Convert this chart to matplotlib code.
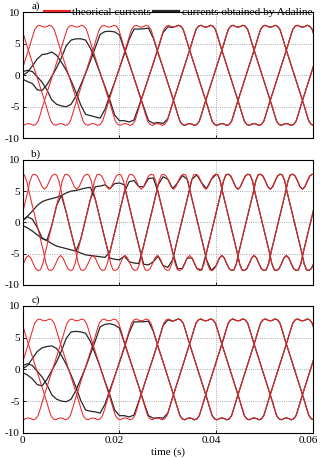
import numpy as np
import matplotlib
matplotlib.use("Agg")
import matplotlib.pyplot as plt
from matplotlib.transforms import ScaledTranslation

plt.rcParams['font.family'] = ['Liberation Serif', 'DejaVu Serif']
plt.rcParams['font.size'] = 8

# digitised waveforms: one period (0.02 s) sampled every 0.5 ms,
# starting at the centre of the positive half-wave
step = 0.0005
period = 0.02
# centre of the first positive half-wave of each phase (s)
phase_centres = [0.0045, 0.01117, 0.01783]

cycle_trap = [7.65, 7.75, 7.95, 7.8, 7.3, 6.1, 4.8, 3.6, 2.4, 1.2,
              0.0, -1.2, -2.4, -3.6, -4.8, -6.1, -7.3, -7.8, -7.95, -7.75,
              -7.65, -7.75, -7.95, -7.8, -7.3, -6.1, -4.8, -3.6, -2.4, -1.2,
              0.0, 1.2, 2.4, 3.6, 4.8, 6.1, 7.3, 7.8, 7.95, 7.75]

cycle_harm = [5.3, 5.7, 6.6, 7.4, 7.7, 7.6, 6.6, 4.8, 3.2, 1.6,
              0.0, -1.6, -3.2, -4.8, -6.6, -7.6, -7.7, -7.4, -6.6, -5.7,
              -5.3, -5.7, -6.6, -7.4, -7.7, -7.6, -6.6, -4.8, -3.2, -1.6,
              0.0, 1.6, 3.2, 4.8, 6.6, 7.6, 7.7, 7.4, 6.6, 5.7]

# Adaline outputs during convergence, sampled every 1 ms from t = 0
ad_step = 0.001
adaline_a = [
    [0.0, 0.5, 1.5, 2.6, 3.3, 3.4, 3.7, 3.2, 2.1, 0.8, -0.85, -2.7, -4.7, -6.2, -6.4, -6.6, -6.8,
     -5.4, -3.2, -1.1, 1.1, 3.35, 5.7, 7.35, 7.35, 7.4, 7.5, 5.9, 3.5, 1.2, -1.2, -3.55, -6.1],
    [-0.6, -1.0, -1.3, -2.3, -2.4, -1.5, -0.2, 1.2, 2.8, 4.7, 5.6, 5.8, 5.8, 5.6, 4.3, 2.4, 0.35,
     -1.8, -3.9, -6.3, -7.2, -7.2, -7.4, -7.1, -4.9, -2.7, -0.4, 1.9, 4.3, 6.8, 7.7, 7.6, 7.9],
    [0.6, 0.8, 0.6, -0.2, -1.1, -2.3, -3.9, -4.6, -4.85, -5.0, -4.6, -3.3, -1.5, 0.3, 2.3, 4.4, 6.5,
     6.95, 7.0, 6.9, 6.4, 4.1, 1.9, -0.4, -2.7, -5.0, -7.2, -7.6, -7.5, -7.65, -6.9, -4.4, -2.0],
]

adaline_b = [
    [0.3, 1.0, 1.8, 2.7, 3.3, 3.6, 3.8, 4.0, 4.3, 1.6, -1.6, -4.6, -4.9, -5.2, -5.3, -5.4, -5.5,
     -5.6, -4.8, -1.6, 1.6, 4.8, 6.5, 6.7, 5.7, 5.7, 7.0, 7.1, 4.8, 1.6, -1.6, -4.8, -7.4, -7.4,
     -5.7, -5.7, -7.4, -7.6, -4.8, -1.6, 1.6],
    [-0.5, -0.9, -1.4, -2.0, -2.6, -2.9, -0.5, 2.7, 4.3, 4.7, 5.0, 5.1, 5.3, 5.5, 5.6, 3.7, 0.5,
     -2.7, -5.7, -5.9, -6.0, -5.4, -6.3, -6.5, -6.6, -3.7, -0.5, 2.7, 6.0, 7.3, 6.9, 5.4, 6.3, 7.5,
     6.9, 3.7, 0.5, -2.7, -6.0, -7.7, -6.9],
    [0.3, 0.9, 0.5, -0.8, -2.5, -2.9, -3.4, -3.8, -4.0, -4.2, -4.4, -4.6, -2.7, 0.5, 3.7, 5.7, 5.8,
     6.0, 5.4, 6.2, 6.3, 6.0, 2.7, -0.5, -3.7, -6.7, -6.8, -6.3, -5.4, -6.9, -7.2, -6.0, -2.7, 0.5,
     3.7, 6.9, 7.6, 6.3, 5.4, 6.9, 7.7],
]

adaline_c = [
    [0.1, 0.6, 1.7, 2.8, 3.4, 3.6, 3.7, 3.3, 2.2, 0.8, -0.9, -2.8, -4.9, -6.4, -6.6, -6.7, -6.9,
     -5.5, -3.3, -1.1, 1.1, 3.4, 5.8, 7.5, 7.5, 7.5, 7.6, 6.0, 3.5, 1.2, -1.2, -3.6, -6.1],
    [-0.5, -0.9, -1.5, -2.4, -2.6, -1.6, -0.2, 1.2, 2.9, 4.9, 5.9, 6.0, 5.9, 5.7, 4.4, 2.4, 0.4,
     -1.9, -4.0, -6.4, -7.3, -7.3, -7.5, -7.2, -5.0, -2.7, -0.4, 1.9, 4.3, 6.9, 7.8, 7.6, 7.9],
    [0.6, 0.9, 0.6, -0.3, -1.2, -2.4, -4.0, -4.7, -5.0, -5.1, -4.7, -3.3, -1.5, 0.3, 2.4, 4.5, 6.7,
     7.1, 7.2, 7.0, 6.5, 4.2, 1.9, -0.4, -2.7, -5.1, -7.3, -7.7, -7.6, -7.7, -6.9, -4.4, -2.0],
]

x_ticks = [0, 0.02, 0.04, 0.06]
x_labels = ['0', '0.02', '0.04', '0.06']
y_ticks = [-10, -5, 0, 5, 10]
y_labels = ['-10', '-5', '0', '5', '10']

RED = '#e8262b'
BLACK = '#262626'


def draw_panel(ax, cycle, adaline, label):
    n_rep = 6
    t_cycle = np.arange(len(cycle) * n_rep) * step - period
    y_cycle = np.tile(np.array(cycle), n_rep)
    t_ad = np.arange(len(adaline[0])) * ad_step

    # adaline estimates: transient, then locked onto the theoretical current
    for k, c in enumerate(phase_centres):
        x = t_cycle + c
        after = x > t_ad[-1] + 1e-9
        ax.plot(np.concatenate([t_ad, x[after]]),
                np.concatenate([adaline[k], y_cycle[after]]),
                color=BLACK, lw=0.9)
    for c in phase_centres:
        ax.plot(t_cycle + c, y_cycle, color=RED, lw=0.75)

    ax.set_xlim(0, 0.06)
    ax.set_ylim(-10, 10)
    ax.set_xticks(x_ticks)
    ax.set_yticks(y_ticks)
    ax.set_yticklabels(y_labels)
    ax.grid(True, linestyle=':', color='#8c8c8c', lw=0.6)
    ax.tick_params(direction='in', length=2, width=0.6, pad=2)
    for sp in ax.spines.values():
        sp.set_linewidth(0.8)
    ax.text(0.03, 1.01, label, transform=ax.transAxes, ha='left', va='bottom')


fig = plt.figure(figsize=(3.2, 4.58), dpi=100)
ax_a = fig.add_axes([0.071, 0.698, 0.907, 0.275])
ax_b = fig.add_axes([0.071, 0.378, 0.907, 0.273])
ax_c = fig.add_axes([0.071, 0.055, 0.907, 0.277])

draw_panel(ax_a, cycle_trap, adaline_a, 'a)')
draw_panel(ax_b, cycle_harm, adaline_b, 'b)')
draw_panel(ax_c, cycle_trap, adaline_c, 'c)')

for ax in (ax_a, ax_b):
    ax.set_xticklabels([])
ax_c.set_xticklabels(x_labels)
# the non-zero labels sit a little left of their ticks, as in the original
shift = ScaledTranslation(-5 / 100, 0, fig.dpi_scale_trans)
for lab in ax_c.get_xticklabels()[1:]:
    lab.set_transform(lab.get_transform() + shift)
ax_c.set_xlabel('time (s)', labelpad=2)

h_red, = ax_a.plot([], [], color=RED, lw=1.6)
h_blk, = ax_a.plot([], [], color=BLACK, lw=1.6)
ax_a.legend([h_red, h_blk], ['theorical currents', 'currents obtained by Adaline'],
            loc='lower right', bbox_to_anchor=(0.998, 0.965), ncol=2, frameon=False,
            fontsize=8.2, handlelength=2.3, handletextpad=0.2, columnspacing=0.2,
            borderpad=0, borderaxespad=0)

fig.savefig('out.png', dpi=100)
